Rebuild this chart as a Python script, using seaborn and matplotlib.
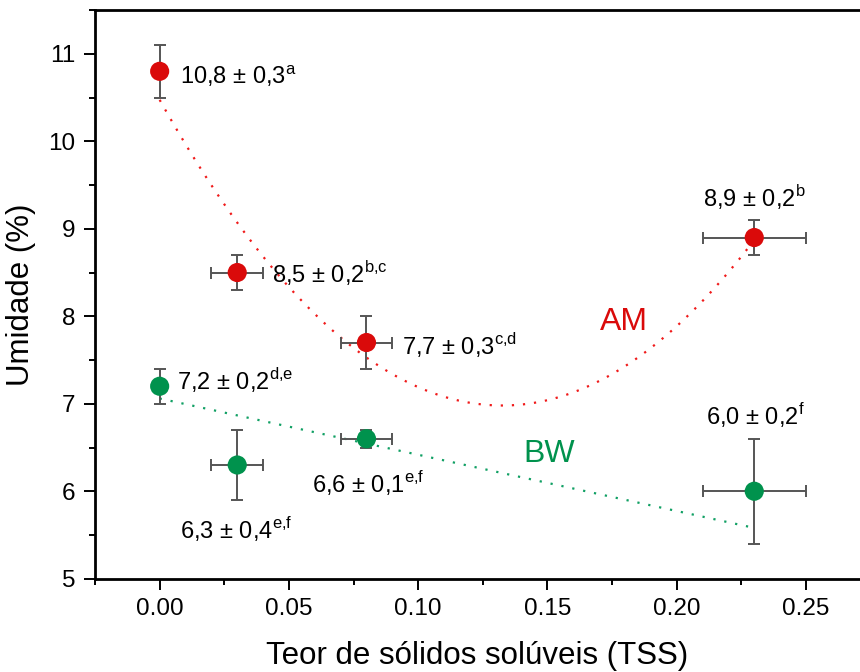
import numpy as np
import pandas as pd
import matplotlib
matplotlib.use("Agg")
import matplotlib.pyplot as plt
from matplotlib.ticker import MultipleLocator, FormatStrFormatter
import seaborn as sns

# dados
tss = [0.00, 0.03, 0.08, 0.23]
tss_err = [0.0, 0.01, 0.01, 0.02]
am_umid = [10.8, 8.5, 7.7, 8.9]
am_err = [0.3, 0.2, 0.3, 0.2]
bw_umid = [7.2, 6.3, 6.6, 6.0]
bw_err = [0.2, 0.4, 0.1, 0.6]

am_labels = ["10,8 ± 0,3$^{\\mathrm{a}}$", "8,5 ± 0,2$^{\\mathrm{b{,}c}}$",
             "7,7 ± 0,3$^{\\mathrm{c{,}d}}$", "8,9 ± 0,2$^{\\mathrm{b}}$"]
bw_labels = ["7,2 ± 0,2$^{\\mathrm{d{,}e}}$", "6,3 ± 0,4$^{\\mathrm{e{,}f}}$",
             "6,6 ± 0,1$^{\\mathrm{e{,}f}}$", "6,0 ± 0,2$^{\\mathrm{f}}$"]
am_lab_pos = [(0.008, 10.75), (0.0434, 8.49), (0.0938, 7.67), (0.210, 9.36)]
bw_lab_pos = [(0.0067, 7.27), (0.008, 5.56), (0.059, 6.09), (0.2113, 6.86)]

am_fit = (199.0, 0.1325, 6.98)   # a*(x-h)^2 + k
bw_fit = (7.06, -6.43)           # b0 + b1*x

red = "#DA0A0A"
green = "#00924D"
red_fit = "#F01A1A"
green_fit = "#11A064"

df = pd.DataFrame({
    "tss": tss * 2,
    "umid": am_umid + bw_umid,
    "amostra": ["AM"] * 4 + ["BW"] * 4,
})

xs = np.linspace(0, 0.23, 200)
fit_df = pd.DataFrame({
    "tss": np.concatenate([xs, xs]),
    "umid": np.concatenate([am_fit[0] * (xs - am_fit[1]) ** 2 + am_fit[2],
                            bw_fit[0] + bw_fit[1] * xs]),
    "amostra": ["AM"] * len(xs) + ["BW"] * len(xs),
})

sns.set_style("ticks")
plt.rcParams["font.family"] = ["Liberation Sans", "DejaVu Sans"]
plt.rcParams["mathtext.fontset"] = "custom"
plt.rcParams["mathtext.rm"] = "Liberation Sans"

fig = plt.figure(figsize=(8.6, 6.72), dpi=100)
ax = fig.add_axes([0.1105, 0.1388, 0.8895, 0.8462])

sns.lineplot(data=fit_df, x="tss", y="umid", hue="amostra",
             palette={"AM": red_fit, "BW": green_fit}, linewidth=1.6,
             linestyle=(0, (1, 4)), legend=False, ax=ax, zorder=2)

for y, yerr in [(am_umid, am_err), (bw_umid, bw_err)]:
    ax.errorbar(tss, y, xerr=tss_err, yerr=yerr, fmt="none", ecolor="#555555",
                elinewidth=1.4, capsize=4.5, capthick=1.4, zorder=3)

sns.scatterplot(data=df, x="tss", y="umid", hue="amostra",
                palette={"AM": red, "BW": green}, s=190, linewidth=0,
                legend=False, ax=ax, zorder=4)

for (px, py), lab in zip(am_lab_pos + bw_lab_pos, am_labels + bw_labels):
    ax.text(px, py, lab, fontsize=17, ha="left", va="center", color="black")

ax.text(0.1797, 7.93, "AM", color=red, fontsize=23, ha="center", va="center")
ax.text(0.1508, 6.42, "BW", color=green, fontsize=23, ha="center", va="center")

ax.set_xlim(-0.025, 0.2709)
ax.set_ylim(5, 11.5)
ax.xaxis.set_major_locator(MultipleLocator(0.05))
ax.xaxis.set_minor_locator(MultipleLocator(0.025))
ax.xaxis.set_major_formatter(FormatStrFormatter("%.2f"))
ax.yaxis.set_major_locator(MultipleLocator(1))
ax.yaxis.set_minor_locator(MultipleLocator(0.5))
ax.tick_params(which="major", length=8, width=1.4, labelsize=17.5,
               direction="out", colors="black", pad=6)
ax.tick_params(which="minor", length=4, width=1.4, direction="out", colors="black")

for s in ["left", "bottom", "top"]:
    ax.spines[s].set_linewidth(2.0)
    ax.spines[s].set_color("black")
ax.spines["right"].set_visible(False)

ax.set_xlabel("Teor de sólidos solúveis (TSS)", fontsize=22.5, labelpad=15, color="black")
ax.set_ylabel("Umidade (%)", fontsize=22.5, labelpad=9, color="black")

fig.savefig("out.png", dpi=100)
